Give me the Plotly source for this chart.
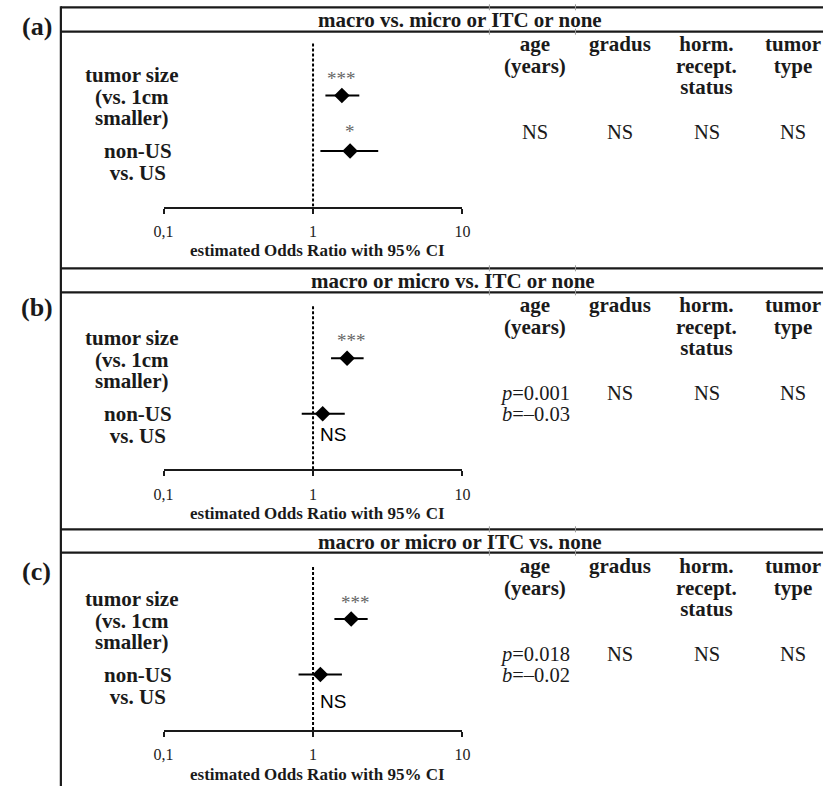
import math
import plotly.graph_objects as go

# ---------------------------------------------------------------- data
panel_tags = ["(a)", "(b)", "(c)"]
comparisons = [
    "macro vs. micro or ITC or none",
    "macro or micro vs. ITC or none",
    "macro or micro or ITC vs. none",
]

# forest-plot rows (top row first)
row_names = ["tumor size", "non-US vs. US"]
row_label_lines = [["tumor size", "(vs. 1cm", "smaller)"], ["non-US", "vs. US"]]

# odds ratios with 95% CI, one array per panel
or_a = [1.56, 1.77]
lo_a = [1.21, 1.12]
hi_a = [2.04, 2.73]
sig_a = ["***", "*"]

or_b = [1.69, 1.16]
lo_b = [1.32, 0.84]
hi_b = [2.18, 1.63]
sig_b = ["***", "NS"]

or_c = [1.80, 1.12]
lo_c = [1.39, 0.80]
hi_c = [2.32, 1.56]
sig_c = ["***", "NS"]

# x-axis ticks
tick_vals = [0.1, 1, 10]
tick_text = ["0,1", "1", "10"]
axis_title = "estimated Odds Ratio with 95% CI"

# covariates tested without a forest plot
covariate_lines = [["age", "(years)"], ["gradus"], ["horm.", "recept.", "status"], ["tumor", "type"]]
age_result_a = ["NS"]
age_result_b = ["<i>p</i>=0.001", "<i>b</i>=\u20130.03"]
age_result_c = ["<i>p</i>=0.018", "<i>b</i>=\u20130.02"]
other_result = "NS"

# ---------------------------------------------------------------- layout helpers
W, H = 831, 786
SERIF = "Liberation Serif, Times New Roman, serif"
SANS = "Liberation Sans, Arial, sans-serif"
INK = "#1a1a1a"
LINE_SPACING = 1.3     # plotly's multi-line spacing, in units of the base font size


def px(x):
    return x / W


def py(y):
    return 1 - y / H


def block(lines, size, leading, bold=False):
    """Multi-line text with tight leading: glyphs drawn at `size`,
    lines spaced `leading` px apart through a smaller base font."""
    parts = []
    for ln in lines:
        t = "<b>" + ln + "</b>" if bold else ln
        parts.append("<span style='font-size:%gpx'>%s</span>" % (size, t))
    return "<br>".join(parts), leading / LINE_SPACING


ROW_PX = 55.5          # vertical distance between forest rows
X0, X1 = 157, 462.5    # pixel span of the 0,1 .. 10 axis
FRAME_L = 52

panels = [
    dict(top=7.3, hdr=31.7, axis=206.5, title_x=460, ns_y=None,
         data=(or_a, lo_a, hi_a, sig_a), age=age_result_a, star_dx=[0, 0], star_dy=[17, 20]),
    dict(top=268.3, hdr=292.3, axis=469.3, title_x=453, ns_y=0.62,
         data=(or_b, lo_b, hi_b, sig_b), age=age_result_b, star_dx=[4, 0], star_dy=[18, 0]),
    dict(top=529.3, hdr=552.7, axis=730.0, title_x=460, ns_y=0.52,
         data=(or_c, lo_c, hi_c, sig_c), age=age_result_c, star_dx=[4, 0], star_dy=[17, 0]),
]
tag_y = [26, 307, 571]
col_x = [537, 624, 712, 800]
label_x = [125, 131]
label_dy = [-109.5, -44.2]   # centre of each row-label block, relative to the axis line

fig = go.Figure()
shapes = []
annotations = []

row_y = [2, 1]

for i, p in enumerate(panels):
    n = "" if i == 0 else str(i + 1)
    xa, ya = "x" + n, "y" + n
    orv, lo, hi, sig = p["data"]

    # reference line at OR = 1
    fig.add_trace(go.Scatter(
        x=[1, 1], y=[0, 2.97], mode="lines",
        line=dict(color="black", width=2, dash="3px,2px"),
        xaxis=xa, yaxis=ya, hoverinfo="skip", showlegend=False))

    # point estimates with confidence intervals
    fig.add_trace(go.Scatter(
        x=orv, y=row_y, mode="markers", text=row_names,
        marker=dict(symbol="diamond", size=12, color="black"),
        error_x=dict(type="data", symmetric=False,
                     array=[h - o for h, o in zip(hi, orv)],
                     arrayminus=[o - l for o, l in zip(orv, lo)],
                     color="black", thickness=2, width=0),
        xaxis=xa, yaxis=ya, showlegend=False))

    # significance markers (annotation x on a log axis is given in log10 units)
    for k, s in enumerate(sig):
        if s == "NS":
            annotations.append(dict(
                x=math.log10(1), y=p["ns_y"], xref=xa, yref=ya, text=s, showarrow=False,
                xanchor="left", yanchor="middle", xshift=5,
                font=dict(family=SANS, size=19, color="black")))
        else:
            annotations.append(dict(
                x=math.log10(orv[k]), y=row_y[k], xref=xa, yref=ya, text=s, showarrow=False,
                xanchor="center", yanchor="middle",
                yshift=p["star_dy"][k], xshift=p["star_dx"][k],
                font=dict(family=SERIF, size=19, color="#666666")))

    # axes
    fig.update_layout({
        "xaxis" + n: dict(
            type="log", range=[-1, 1], domain=[px(X0), px(X1)],
            anchor=ya, showgrid=False, zeroline=False,
            showline=True, linecolor=INK, linewidth=2,
            ticks="outside", ticklen=5, tickwidth=1.5, tickcolor=INK,
            tickvals=tick_vals, ticktext=tick_text, ticklabelstandoff=4,
            tickfont=dict(family=SERIF, size=16, color="#222222"),
            fixedrange=True),
        "yaxis" + n: dict(
            range=[0, 3], domain=[py(p["axis"]), py(p["axis"] - 3 * ROW_PX)],
            anchor=xa, visible=False, showgrid=False, zeroline=False,
            fixedrange=True),
    })

    annotations.append(dict(
        x=0.5, y=0, xref=xa + " domain", yref=ya + " domain", text="<b>" + axis_title + "</b>",
        showarrow=False, xanchor="center", yanchor="middle", yshift=-44, xshift=4,
        font=dict(family=SERIF, size=17, color=INK)))

    # panel frame and header band
    for y in (p["top"], p["hdr"]):
        shapes.append(dict(type="line", xref="paper", yref="paper",
                           x0=px(FRAME_L), x1=1, y0=py(y), y1=py(y),
                           line=dict(color=INK, width=2.2)))
        for tx in (490, 578):
            shapes.append(dict(type="line", xref="paper", yref="paper",
                               x0=px(tx), x1=px(tx), y0=py(y - 3), y1=py(y + 3),
                               line=dict(color="#999999", width=1)))

    annotations.append(dict(
        x=px(p["title_x"]), y=py((p["top"] + p["hdr"]) / 2 + 0.5), xref="paper", yref="paper",
        text="<b>" + comparisons[i] + "</b>", showarrow=False,
        xanchor="center", yanchor="middle", font=dict(family=SERIF, size=21, color=INK)))

    annotations.append(dict(
        x=px(27.5), y=py(tag_y[i]), xref="paper", yref="paper",
        text="<b>" + panel_tags[i] + "</b>", showarrow=False,
        xanchor="center", yanchor="middle", font=dict(family=SERIF, size=26, color=INK)))

    # row labels
    for r, lines in enumerate(row_label_lines):
        txt, base = block(lines, 21, 21.7, bold=True)
        annotations.append(dict(
            x=px(label_x[r]), y=py(p["axis"] + label_dy[r]), xref="paper", yref="paper",
            text=txt, showarrow=False, align="center",
            xanchor="center", yanchor="middle", font=dict(family=SERIF, size=base, color=INK)))

    # covariate column headers (top-anchored so single- and multi-line cells share a first line)
    for c, lines in enumerate(covariate_lines):
        txt, base = block(lines, 21, 21.7, bold=True)
        annotations.append(dict(
            x=px(col_x[c]), y=py(p["top"] + 23), xref="paper", yref="paper",
            text=txt, showarrow=False, align="center",
            xanchor="center", yanchor="top", font=dict(family=SERIF, size=base, color=INK)))

    # covariate results
    results = [p["age"], [other_result], [other_result], [other_result]]
    for c, lines in enumerate(results):
        txt, base = block(lines, 20.5, 21.2)
        annotations.append(dict(
            x=px(col_x[c]), y=py(p["top"] + 112), xref="paper", yref="paper",
            text=txt, showarrow=False, align="center",
            xanchor="center", yanchor="top", font=dict(family=SERIF, size=base, color=INK)))

# left frame edge running through all panels
shapes.append(dict(type="line", xref="paper", yref="paper",
                   x0=px(FRAME_L), x1=px(FRAME_L), y0=py(6.2), y1=0,
                   line=dict(color=INK, width=2.2)))

fig.update_layout(
    width=W, height=H,
    margin=dict(l=0, r=0, t=0, b=0),
    paper_bgcolor="white", plot_bgcolor="white",
    shapes=shapes, annotations=annotations,
    showlegend=False,
)

fig.write_html("out.html", config={"displayModeBar": False})
